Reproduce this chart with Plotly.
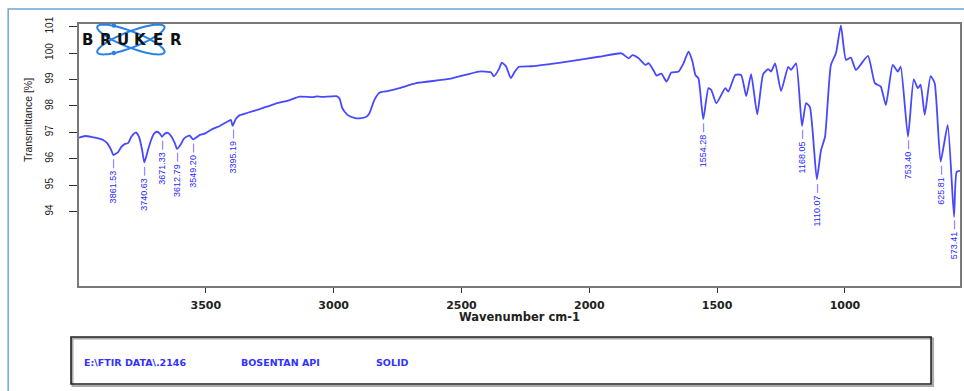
import plotly.graph_objects as go
import math

# ---------------- data ----------------
wavenumber = [3996, 3972, 3945, 3925, 3902, 3886, 3870, 3861.5, 3843, 3831, 3816, 3804, 3792, 3781, 3773,
              3761, 3749, 3740.6, 3726, 3714, 3703, 3691, 3679, 3671.3, 3660, 3648, 3636, 3620, 3612.8,
              3597, 3586, 3570, 3563, 3549.2, 3535, 3523, 3500, 3473, 3445, 3418, 3402, 3395.2, 3383,
              3367, 3336, 3289, 3231, 3172, 3133, 3083, 3067, 3044, 2989, 2977, 2966, 2946, 2919, 2899,
              2872, 2860, 2841, 2821, 2790, 2743, 2677, 2548, 2431, 2385, 2373, 2353, 2342, 2326, 2307,
              2291, 2275, 2225, 2092, 1963, 1874, 1846, 1831, 1807, 1780, 1768, 1749, 1737, 1718, 1698,
              1679, 1651, 1632, 1612, 1597, 1585, 1573, 1554.3, 1534, 1523, 1503, 1468, 1456, 1429, 1406,
              1386, 1367, 1343, 1320, 1300, 1289, 1273, 1250, 1222, 1211, 1191, 1168.1, 1152, 1137,
              1110.1, 1094, 1078, 1055, 1035, 1016, 996, 977, 957, 910, 883, 860, 840, 813, 793, 782,
              753.4, 731, 715, 704, 688, 665, 649, 625.8, 598, 573.4, 563, 548]
transmittance = [96.80, 96.86, 96.82, 96.78, 96.71, 96.59, 96.33, 96.14, 96.25, 96.44, 96.56, 96.59, 96.82,
                 96.95, 97.00, 96.82, 96.33, 95.86, 96.33, 96.71, 96.94, 97.02, 96.94, 96.83, 96.95, 96.98,
                 96.86, 96.56, 96.37, 96.56, 96.75, 96.86, 96.87, 96.73, 96.82, 96.90, 96.97, 97.13, 97.24,
                 97.39, 97.47, 97.24, 97.50, 97.65, 97.74, 97.88, 98.07, 98.22, 98.35, 98.33, 98.36, 98.34,
                 98.37, 98.28, 97.91, 97.66, 97.55, 97.53, 97.59, 97.72, 98.22, 98.50, 98.56, 98.67, 98.86,
                 99.02, 99.30, 99.27, 99.12, 99.40, 99.64, 99.50, 99.05, 99.30, 99.48, 99.50, 99.67, 99.86,
                 99.99, 99.80, 99.92, 99.80, 99.55, 99.62, 99.35, 99.15, 99.22, 98.92, 99.26, 99.30, 99.60,
                 100.05, 99.70, 99.17, 99.04, 97.50, 98.67, 98.60, 98.10, 98.67, 98.54, 99.17, 99.17, 98.37,
                 99.20, 97.68, 99.20, 99.39, 99.30, 99.61, 98.56, 99.48, 99.36, 99.61, 97.24, 98.10, 97.95,
                 95.22, 96.30, 96.83, 99.55, 100.00, 101.05, 99.74, 99.83, 99.36, 99.89, 98.86, 98.73, 98.03,
                 99.55, 99.30, 99.49, 96.83, 99.00, 98.67, 98.80, 97.66, 99.13, 98.86, 95.89, 97.28, 93.80,
                 95.50, 95.54]

peak_wavenumbers = [3861.53, 3740.63, 3671.33, 3612.79, 3549.20, 3395.19,
                    1554.28, 1168.05, 1110.07, 753.40, 625.81, 573.41]
peak_transmittance = [96.14, 95.86, 96.83, 96.37, 96.73, 97.24,
                      97.50, 97.24, 95.22, 96.83, 95.89, 93.80]
peak_labels = ["3861.53", "3740.63", "3671.33", "3612.79", "3549.20", "3395.19",
               "1554.28", "1168.05", "1110.07", "753.40", "625.81", "573.41"]

x_ticks = [3500, 3000, 2500, 2000, 1500, 1000]
y_ticks = [94, 95, 96, 97, 98, 99, 100, 101]
x_range = [3996, 550]
y_range = [91.18, 101.1]

x_title = "Wavenumber cm-1"
y_title = "Transmittance [%]"
info_texts = ["E:\\FTIR DATA\\.2146", "BOSENTAN API", "SOLID"]
logo_letters = ["B", "R", "U", "K", "E", "R"]

# ---------------- layout geometry (pixels) ----------------
W, H = 964, 391
L, R, TOP, BOT = 79, 962, 24, 286


def px(x):
    return (x - L) / (R - L)


def py(y):
    return (BOT - y) / (BOT - TOP)


CURVE = "rgb(72,72,255)"
LABEL = "rgb(40,40,255)"

fig = go.Figure()
fig.add_trace(go.Scatter(x=wavenumber, y=transmittance, mode="lines",
                         line=dict(color=CURVE, width=1.8, shape="spline", smoothing=0.5),
                         hoverinfo="skip", showlegend=False))

annotations = []
for w, t, lab in zip(peak_wavenumbers, peak_transmittance, peak_labels):
    annotations.append(dict(x=w, y=t, xref="x", yref="y", text=lab + " \u2014",
                            textangle=-90, showarrow=False, xanchor="center", yanchor="top",
                            yshift=-2, font=dict(family="Liberation Sans, Arial, sans-serif",
                                                 size=9, color=LABEL)))

# axis titles
annotations.append(dict(x=px(28), y=py(120), xref="paper", yref="paper", text=y_title,
                        textangle=-90, showarrow=False, xanchor="center", yanchor="middle",
                        font=dict(family="Liberation Sans, Arial, sans-serif", size=10.5, color="#222")))
annotations.append(dict(x=px(520), y=py(317), xref="paper", yref="paper", text="<b>" + x_title + "</b>",
                        showarrow=False, xanchor="center", yanchor="middle",
                        font=dict(family="DejaVu Sans, sans-serif", size=11.5, color="#222")))

# info box texts
for xpix, txt in zip([82, 239, 375], info_texts):
    annotations.append(dict(x=px(xpix), y=py(362), xref="paper", yref="paper", text="<b>" + txt + "</b>",
                            showarrow=False, xanchor="left", yanchor="middle",
                            font=dict(family="DejaVu Sans, sans-serif", size=9.5, color="rgb(50,50,255)")))

# logo letters
for i, ch in enumerate(logo_letters):
    annotations.append(dict(x=px(88 + i * 17.6), y=py(40), xref="paper", yref="paper", text="<b>" + ch + "</b>",
                            showarrow=False, xanchor="center", yanchor="middle",
                            font=dict(family="DejaVu Sans, sans-serif", size=15, color="#111")))

shapes = []
# outer blue frame
shapes.append(dict(type="rect", xref="paper", yref="paper", x0=px(8), x1=px(1000), y0=py(9), y1=py(400),
                   line=dict(color="rgb(110,165,210)", width=1.5), layer="below"))
# info box shadow + box
shapes.append(dict(type="rect", xref="paper", yref="paper", x0=px(72.5), x1=px(935), y0=py(338.5), y1=py(386),
                   line=dict(color="rgb(170,170,170)", width=2), layer="above"))
shapes.append(dict(type="rect", xref="paper", yref="paper", x0=px(71), x1=px(933), y0=py(337), y1=py(384),
                   line=dict(color="rgb(30,30,30)", width=1.6), layer="above"))


def ellipse_path(cx, cy, a, b, ang):
    pts = []
    for k in range(73):
        t = 2 * math.pi * k / 72
        ex, ey = a * math.cos(t), b * math.sin(t)
        xr = cx + ex * math.cos(ang) - ey * math.sin(ang)
        yr = cy + ex * math.sin(ang) + ey * math.cos(ang)
        pts.append((px(xr), py(yr)))
    return "M " + " L ".join(f"{x:.5f},{y:.5f}" for x, y in pts) + " Z"


LOGO_BLUE = "rgb(40,130,230)"
for ang in (math.radians(21), math.radians(-21)):
    shapes.append(dict(type="path", xref="paper", yref="paper", path=ellipse_path(131, 39.5, 36, 8, ang),
                       line=dict(color=LOGO_BLUE, width=2), layer="above"))
for (dx, dy) in [(114, 25.5), (114, 53)]:
    shapes.append(dict(type="circle", xref="paper", yref="paper", x0=px(dx - 2.2), x1=px(dx + 2.2),
                       y0=py(dy - 2.2), y1=py(dy + 2.2), fillcolor=LOGO_BLUE,
                       line=dict(color=LOGO_BLUE, width=0), layer="above"))

fig.update_layout(
    width=W, height=H, margin=dict(l=L, r=W - R, t=TOP, b=H - BOT),
    paper_bgcolor="white", plot_bgcolor="white", showlegend=False,
    annotations=annotations, shapes=shapes,
    xaxis=dict(range=x_range, tickvals=x_ticks, ticktext=["<b>" + str(v) + "</b>" for v in x_ticks],
               showgrid=False, zeroline=False, showline=True, mirror=True,
               linecolor="rgb(120,120,120)", linewidth=1.5,
               ticks="outside", ticklen=5, tickcolor="#333", tickwidth=1.2,
               ticklabelstandoff=3,
               tickfont=dict(family="DejaVu Sans, sans-serif", size=11, color="#222")),
    yaxis=dict(range=y_range, tickvals=y_ticks, ticktext=[str(v) for v in y_ticks],
               showgrid=False, zeroline=False, showline=True, mirror=True,
               linecolor="rgb(120,120,120)", linewidth=1.5,
               ticks="outside", ticklen=8, tickcolor="#333", tickwidth=1.2,
               tickangle=-90, ticklabelstandoff=12,
               tickfont=dict(family="Liberation Sans, Arial, sans-serif", size=10, color="#222")),
)

fig.write_html("out.html")
